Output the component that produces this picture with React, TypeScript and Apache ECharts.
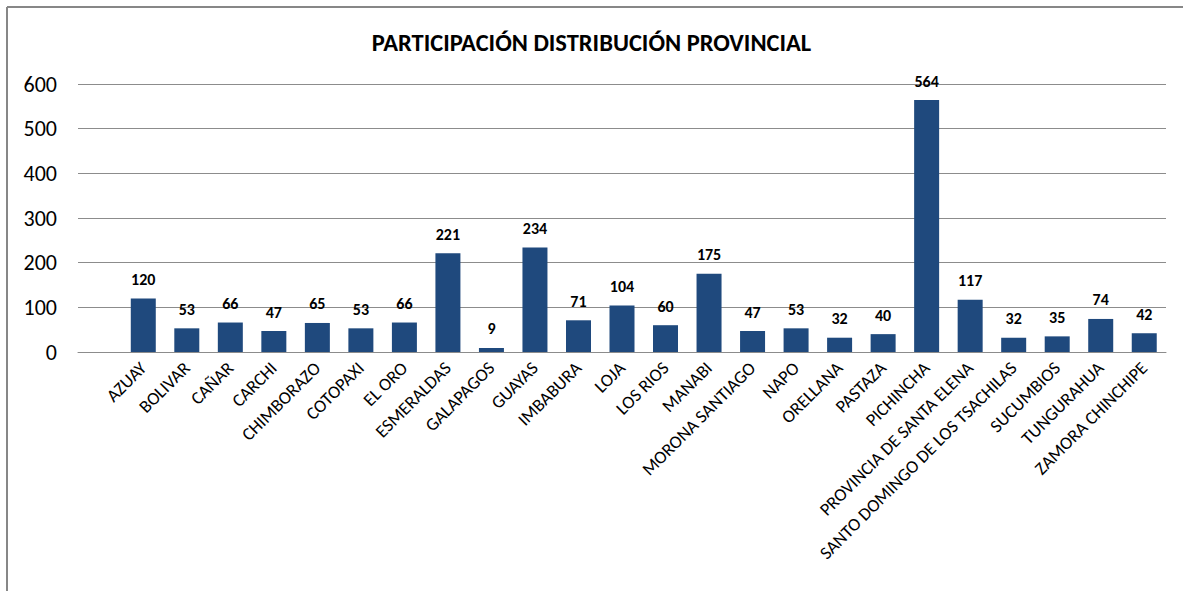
import React, { useEffect, useRef } from "react";
import * as echarts from "echarts";

const categories: string[] = [
  "",
  "AZUAY",
  "BOLIVAR",
  "CAÑAR",
  "CARCHI",
  "CHIMBORAZO",
  "COTOPAXI",
  "EL ORO",
  "ESMERALDAS",
  "GALAPAGOS",
  "GUAYAS",
  "IMBABURA",
  "LOJA",
  "LOS RIOS",
  "MANABI",
  "MORONA SANTIAGO",
  "NAPO",
  "ORELLANA",
  "PASTAZA",
  "PICHINCHA",
  "PROVINCIA DE SANTA ELENA",
  "SANTO DOMINGO DE LOS TSACHILAS",
  "SUCUMBIOS",
  "TUNGURAHUA",
  "ZAMORA CHINCHIPE",
];

const values: (number | null)[] = [
  null, 120, 53, 66, 47, 65, 53, 66, 221, 9, 234, 71, 104, 60, 175, 47, 53, 32, 40, 564, 117, 32, 35, 74, 42,
];

const yTicks = { min: 0, max: 600, interval: 100 };
const titleText = "PARTICIPACIÓN DISTRIBUCIÓN PROVINCIAL";

const FONT = "Carlito, Lato, sans-serif";

export default function App() {
  const ref = useRef<HTMLDivElement>(null);
  useEffect(() => {
    if (!ref.current) return;
    const chart = echarts.init(ref.current, null, { renderer: "svg" });
    chart.setOption({
      animation: false,
      backgroundColor: "#ffffff",
      title: {
        text: titleText,
        left: "center",
        top: 25,
        textStyle: { fontFamily: FONT, fontSize: 24.5, fontWeight: "bold", color: "#000" },
      },
      graphic: [
        { type: "line", shape: { x1: 7, y1: 7, x2: 7, y2: 591 }, style: { stroke: "#878787", lineWidth: 2 } },
        { type: "line", shape: { x1: 7, y1: 7, x2: 1183, y2: 7 }, style: { stroke: "#878787", lineWidth: 2 } },
      ],
      grid: { left: 78, right: 17, top: 84, bottom: 239, containLabel: false },
      xAxis: {
        type: "category",
        data: categories,
        axisLine: { show: true, lineStyle: { color: "#8c8c8c", width: 1 } },
        axisTick: { show: false },
        axisLabel: {
          interval: 0,
          rotate: 45,
          margin: 13,
          fontFamily: FONT,
          fontSize: 18,
          color: "#000",
        },
      },
      yAxis: {
        type: "value",
        min: yTicks.min,
        max: yTicks.max,
        interval: yTicks.interval,
        axisLine: { show: false },
        axisTick: { show: false },
        splitLine: { lineStyle: { color: "#8c8c8c", width: 1 } },
        axisLabel: { fontFamily: FONT, fontSize: 22, color: "#000", margin: 21 },
      },
      series: [
        {
          type: "bar",
          data: values,
          barWidth: 25,
          itemStyle: { color: "#1f497d" },
          label: {
            show: true,
            position: "top",
            distance: 11,
            fontFamily: FONT,
            fontSize: 16,
            fontWeight: "bold",
            color: "#000",
          },
        },
      ],
    });
    return () => chart.dispose();
  }, []);
  return (
    <div
      ref={ref}
      style={{ position: "absolute", left: 0, top: 0, width: 1183, height: 591 }}
    />
  );
}
